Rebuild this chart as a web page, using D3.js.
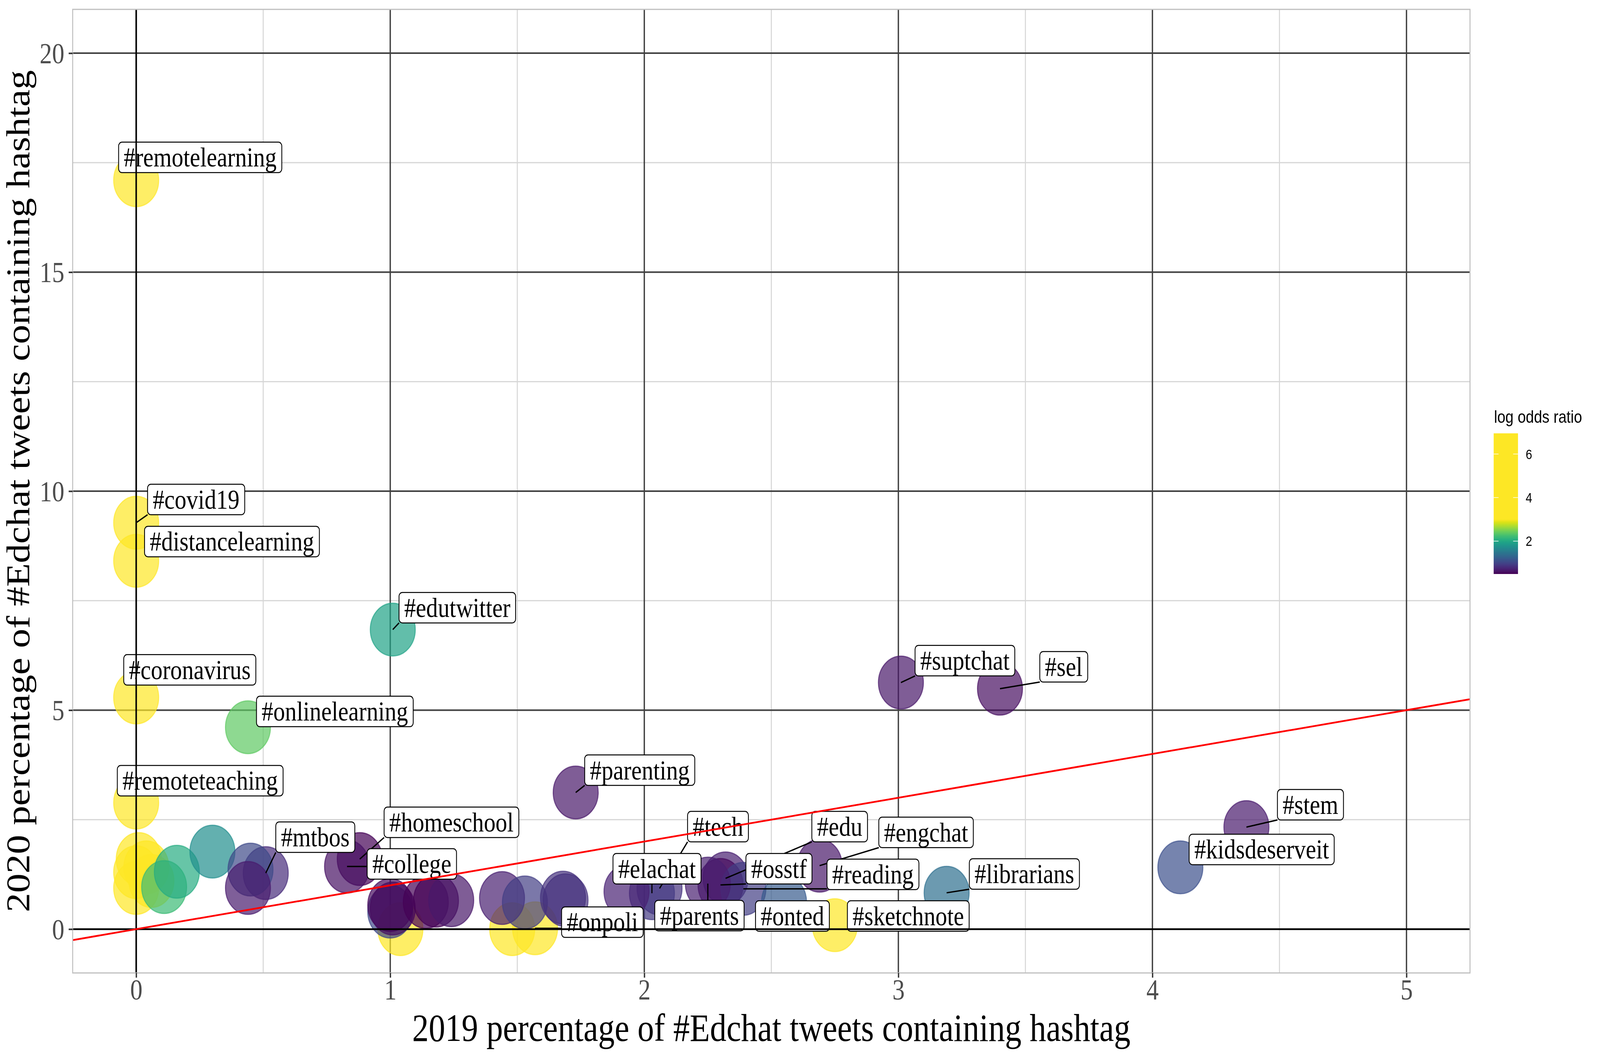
<!DOCTYPE html>
<html>
<head>
<meta charset="utf-8">
<script src="https://cdn.jsdelivr.net/npm/d3@7"></script>
<style>
  html, body { margin: 0; padding: 0; background: #ffffff; overflow: hidden; }
  svg { display: block; position: fixed; left: 0; top: 0; width: 100vw; height: 100vh; }
</style>
</head>
<body>
<svg id="chart" viewBox="0 0 4800 2700" preserveAspectRatio="none"></svg>
<script>

// Hashtag share of #Edchat tweets, 2019 vs 2020 (null = unlabelled point).
const hashtags = [
  '#remotelearning', '#covid19', '#distancelearning', '#edutwitter', '#coronavirus',
  '#onlinelearning', '#remoteteaching', '#mtbos', '#homeschool', '#college',
  '#parenting', '#tech', '#elachat', '#edu', '#engchat',
  '#osstf', '#reading', '#parents', '#onted', '#sketchnote',
  '#onpoli', '#suptchat', '#sel', '#librarians', '#stem',
  '#kidsdeserveit',
  null, null, null, null, null, null, null, null, null, null, null,
  null, null, null, null, null, null, null, null, null, null, null, null
];

const pct2019 = [
  0.00, 0.00, 0.00, 1.01, 0.00,
  0.44, 0.00, 0.51, 0.88, 0.83,
  1.73, 2.06, 2.03, 2.32, 2.69,
  2.30, 2.39, 2.25, 2.55, 2.75,
  1.57, 3.01, 3.40, 3.19, 4.37,
  4.11,
  0.01, 0.04, 0.00, 0.06, 0.00, 1.04, 1.48, 0.11, 0.16, 0.30, 0.45,
  0.44, 1.00, 1.01, 1.00, 1.14, 1.18, 1.24, 1.44, 1.53, 1.68, 1.69, 1.93
];

const pct2020 = [
  17.10, 9.28, 8.41, 6.84, 5.29,
  4.61, 2.89, 1.28, 1.60, 1.43,
  3.12, 0.93, 0.82, 1.16, 1.45,
  1.01, 0.92, 1.04, 0.62, 0.09,
  0.02, 5.63, 5.49, 0.83, 2.33,
  1.41,
  1.60, 1.41, 1.30, 1.10, 0.94, 0.00, 0.00, 0.96, 1.31, 1.77, 1.36,
  0.94, 0.40, 0.47, 0.55, 0.62, 0.65, 0.66, 0.71, 0.61, 0.72, 0.66, 0.86
];

const logOdds = [
  6.6, 6.2, 6.1, 1.95, 5.7,
  2.38, 5.0, 0.8, 0.5, 0.6,
  0.65, 0.85, 0.92, 0.7, 0.65,
  0.55, 0.95, 0.7, 1.2, 5.3,
  5.5, 0.65, 0.58, 1.4, 0.66,
  1.1,
  4.8, 5.2, 4.5, 3.9, 4.2, 5.6, 5.4, 2.2, 2.05, 1.72, 1.05,
  0.67, 1.05, 0.6, 0.55, 0.5, 0.5, 0.65, 0.7, 0.95, 0.85, 0.85, 0.72
];

const xTicks = [0, 1, 2, 3, 4, 5];
const yTicks = [0, 5, 10, 15, 20];
const xMinor = [0.5, 1.5, 2.5, 3.5, 4.5];
const yMinor = [2.5, 7.5, 12.5, 17.5];
const legendTicks = [2, 4, 6];

const xTitle = '2019 percentage of #Edchat tweets containing hashtag';
const yTitle = '2020 percentage of #Edchat tweets containing hashtag';
const legendTitle = 'log odds ratio';

// Where the repelled labels ended up (box centre, data units) and whether a segment shows.
const labelPlacement = {
  '#remotelearning': [0.252, 17.62, false],
  '#covid19': [0.236, 9.81, true],
  '#distancelearning': [0.377, 8.85, false],
  '#edutwitter': [1.264, 7.34, true],
  '#coronavirus': [0.211, 5.92, true],
  '#onlinelearning': [0.782, 4.97, false],
  '#remoteteaching': [0.252, 3.39, false],
  '#mtbos': [0.705, 2.10, true],
  '#homeschool': [1.241, 2.44, true],
  '#college': [1.085, 1.49, true],
  '#parenting': [1.982, 3.63, true],
  '#tech': [2.290, 2.34, true],
  '#elachat': [2.050, 1.38, true],
  '#edu': [2.769, 2.34, true],
  '#engchat': [3.109, 2.21, true],
  '#osstf': [2.530, 1.38, true],
  '#reading': [2.900, 1.25, true],
  '#parents': [2.217, 0.31, true],
  '#onted': [2.583, 0.30, false],
  '#sketchnote': [3.039, 0.30, false],
  '#onpoli': [1.835, 0.16, true],
  '#suptchat': [3.262, 6.13, true],
  '#sel': [3.651, 5.99, true],
  '#librarians': [3.496, 1.26, true],
  '#stem': [4.622, 2.84, true],
  '#kidsdeserveit': [4.430, 1.82, false]
};

const points = pct2019.map((v, i) => ({ tag: hashtags[i], x: v, y: pct2020[i], lo: logOdds[i] }));

const panel = { left: 218, right: 4410, top: 24, bottom: 2490 };
const serif = '"Liberation Serif", "Times New Roman", Times, serif';
const sans = '"Liberation Sans", Arial, Helvetica, sans-serif';

const x = d3.scaleLinear().domain([-0.25, 5.25]).range([panel.left, panel.right]);
const y = d3.scaleLinear().domain([-1, 21]).range([panel.bottom, panel.top]);

// Colours saturate to yellow above ~3.
const colour = d3.scaleSequential(d3.interpolateViridis).domain([0.49, 3.0]).clamp(true);

const svg = d3.select('#chart');

svg.append('rect')
  .attr('width', 4800)
  .attr('height', 2700)
  .attr('fill', '#fff');

svg.append('defs')
  .append('clipPath')
    .attr('id', 'panel-clip')
  .append('rect')
    .attr('x', panel.left)
    .attr('y', panel.top)
    .attr('width', panel.right - panel.left)
    .attr('height', panel.bottom - panel.top);

const grid = svg.append('g').attr('class', 'grid');

grid.selectAll('line.minor-x')
  .data(xMinor)
  .join('line')
    .attr('class', 'minor-x')
    .attr('x1', d => x(d)).attr('x2', d => x(d))
    .attr('y1', panel.top).attr('y2', panel.bottom)
    .attr('stroke', '#d6d6d6')
    .attr('stroke-width', 3);

grid.selectAll('line.minor-y')
  .data(yMinor)
  .join('line')
    .attr('class', 'minor-y')
    .attr('x1', panel.left).attr('x2', panel.right)
    .attr('y1', d => y(d)).attr('y2', d => y(d))
    .attr('stroke', '#d6d6d6')
    .attr('stroke-width', 3);

grid.selectAll('line.major-x')
  .data(xTicks)
  .join('line')
    .attr('class', 'major-x')
    .attr('x1', d => x(d)).attr('x2', d => x(d))
    .attr('y1', panel.top).attr('y2', panel.bottom)
    .attr('stroke', '#404040')
    .attr('stroke-width', 4);

grid.selectAll('line.major-y')
  .data(yTicks)
  .join('line')
    .attr('class', 'major-y')
    .attr('x1', panel.left).attr('x2', panel.right)
    .attr('y1', d => y(d)).attr('y2', d => y(d))
    .attr('stroke', '#404040')
    .attr('stroke-width', 4);

const plot = svg.append('g').attr('clip-path', 'url(#panel-clip)');

plot.append('g')
  .attr('class', 'points')
  .selectAll('circle')
  .data(points)
  .join('circle')
    .attr('cx', d => x(d.x))
    .attr('cy', d => y(d.y))
    .attr('r', 67.5)
    .attr('fill', d => colour(d.lo))
    .attr('fill-opacity', 0.7)
    .attr('stroke', d => colour(d.lo))
    .attr('stroke-opacity', 0.7)
    .attr('stroke-width', 3);

// Labels: measure text first, then boxes.
const labelFont = 70;
const pad = 15.5;
const boxHeight = 78;

const labelled = points.filter(d => d.tag).map(d => {
  const [lx, ly, leader] = labelPlacement[d.tag];
  return { ...d, cx: x(lx), cy: y(ly), leader };
});

const measure = svg.append('text')
  .attr('font-family', serif)
  .attr('font-size', labelFont);

labelled.forEach(d => {
  measure.text(d.tag);
  const w = measure.node().getComputedTextLength() + 2 * pad;
  d.box = { left: d.cx - w / 2, right: d.cx + w / 2, top: d.cy - boxHeight / 2, bottom: d.cy + boxHeight / 2 };
});
measure.remove();

const clamp = (v, lo, hi) => Math.max(lo, Math.min(hi, v));

plot.append('g')
  .attr('class', 'segments')
  .selectAll('line')
  .data(labelled.filter(d => d.leader))
  .join('line')
    .attr('x1', d => x(d.x))
    .attr('y1', d => y(d.y))
    .attr('x2', d => clamp(x(d.x), d.box.left, d.box.right))
    .attr('y2', d => clamp(y(d.y), d.box.top, d.box.bottom))
    .attr('stroke', '#000')
    .attr('stroke-width', 3.5);

const labels = plot.append('g')
  .attr('class', 'labels')
  .selectAll('g')
  .data(labelled)
  .join('g');

labels.append('rect')
  .attr('x', d => d.box.left)
  .attr('y', d => d.box.top)
  .attr('width', d => d.box.right - d.box.left)
  .attr('height', boxHeight)
  .attr('rx', 10)
  .attr('fill', '#fff')
  .attr('stroke', '#000')
  .attr('stroke-width', 2.5);

labels.append('text')
  .attr('x', d => d.cx)
  .attr('y', d => d.box.bottom - pad)
  .attr('text-anchor', 'middle')
  .attr('font-family', serif)
  .attr('font-size', labelFont)
  .attr('fill', '#000')
  .text(d => d.tag);

// Reference lines at zero and y = x.
plot.append('line')
  .attr('x1', panel.left).attr('x2', panel.right)
  .attr('y1', y(0)).attr('y2', y(0))
  .attr('stroke', '#000')
  .attr('stroke-width', 4.5);

plot.append('line')
  .attr('x1', x(0)).attr('x2', x(0))
  .attr('y1', panel.top).attr('y2', panel.bottom)
  .attr('stroke', '#000')
  .attr('stroke-width', 4.5);

const [x0, x1] = x.domain();
plot.append('line')
  .attr('x1', x(x0)).attr('y1', y(x0))
  .attr('x2', x(x1)).attr('y2', y(x1))
  .attr('stroke', '#ff0000')
  .attr('stroke-width', 4.5);

svg.append('rect')
  .attr('x', panel.left)
  .attr('y', panel.top)
  .attr('width', panel.right - panel.left)
  .attr('height', panel.bottom - panel.top)
  .attr('fill', 'none')
  .attr('stroke', '#bfbfbf')
  .attr('stroke-width', 3);

// Axes.
const xAxis = svg.append('g')
  .attr('transform', `translate(0,${panel.bottom})`)
  .call(d3.axisBottom(x).tickValues(xTicks).tickSize(12).tickFormat(d3.format('d')));

const yAxis = svg.append('g')
  .attr('transform', `translate(${panel.left},0)`)
  .call(d3.axisLeft(y).tickValues(yTicks).tickSize(12).tickFormat(d3.format('d')));

[xAxis, yAxis].forEach(axis => {
  axis.select('.domain').remove();
  axis.selectAll('.tick line')
    .attr('stroke', '#333')
    .attr('stroke-width', 4);
  axis.selectAll('.tick text')
    .attr('font-family', serif)
    .attr('font-size', 74)
    .attr('fill', '#4d4d4d');
});

xAxis.selectAll('.tick text')
  .attr('y', 68)
  .attr('dy', null);

yAxis.selectAll('.tick text')
  .attr('x', -25)
  .attr('dy', '0.34em');

svg.append('text')
  .attr('x', (panel.left + panel.right) / 2)
  .attr('y', 2664)
  .attr('text-anchor', 'middle')
  .attr('font-family', serif)
  .attr('font-size', 99)
  .attr('fill', '#000')
  .text(xTitle);

svg.append('text')
  .attr('transform', `translate(88,${(panel.top + panel.bottom) / 2}) rotate(-90)`)
  .attr('text-anchor', 'middle')
  .attr('font-family', serif)
  .attr('font-size', 99)
  .attr('fill', '#000')
  .text(yTitle);

// Colour bar legend.
const bar = { left: 4481, right: 4554, top: 1109, bottom: 1469 };
const legendScale = d3.scaleLinear().domain([0.49, 6.95]).range([bar.bottom, bar.top]);
const [lo0, lo1] = legendScale.domain();

const gradient = svg.select('defs')
  .append('linearGradient')
    .attr('id', 'legend-gradient')
    .attr('x1', 0).attr('y1', 1)
    .attr('x2', 0).attr('y2', 0);

gradient.selectAll('stop')
  .data(d3.range(0, 1.0001, 0.01))
  .join('stop')
    .attr('offset', d => d)
    .attr('stop-color', d => colour(lo0 + d * (lo1 - lo0)));

const legend = svg.append('g').attr('class', 'legend');

legend.append('text')
  .attr('x', 4482)
  .attr('y', 1082)
  .attr('font-family', sans)
  .attr('font-size', 44)
  .attr('fill', '#000')
  .text(legendTitle);

legend.append('rect')
  .attr('x', bar.left)
  .attr('y', bar.top)
  .attr('width', bar.right - bar.left)
  .attr('height', bar.bottom - bar.top)
  .attr('fill', 'url(#legend-gradient)');

const tickLen = (bar.right - bar.left) / 5;

legend.selectAll('line.tick-left')
  .data(legendTicks)
  .join('line')
    .attr('class', 'tick-left')
    .attr('x1', bar.left).attr('x2', bar.left + tickLen)
    .attr('y1', d => legendScale(d)).attr('y2', d => legendScale(d))
    .attr('stroke', '#fff')
    .attr('stroke-width', 1.5);

legend.selectAll('line.tick-right')
  .data(legendTicks)
  .join('line')
    .attr('class', 'tick-right')
    .attr('x1', bar.right - tickLen).attr('x2', bar.right)
    .attr('y1', d => legendScale(d)).attr('y2', d => legendScale(d))
    .attr('stroke', '#fff')
    .attr('stroke-width', 1.5);

legend.selectAll('text.tick-label')
  .data(legendTicks)
  .join('text')
    .attr('class', 'tick-label')
    .attr('x', 4577)
    .attr('y', d => legendScale(d))
    .attr('dy', '0.36em')
    .attr('font-family', sans)
    .attr('font-size', 35)
    .attr('fill', '#000')
    .text(d => d);

</script>
</body>
</html>
